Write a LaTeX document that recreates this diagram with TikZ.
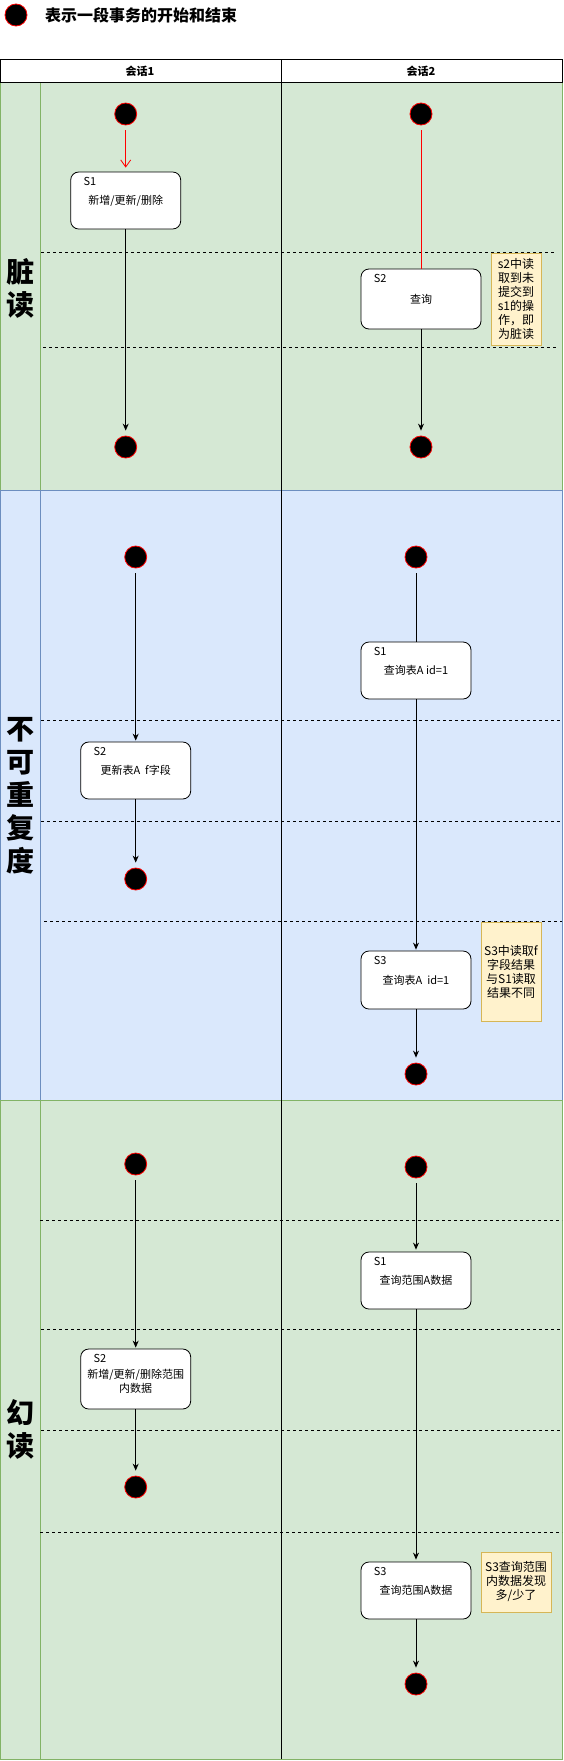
\documentclass[tikz,border=0pt]{standalone}
\usepackage{fontspec}
\setmainfont{Noto Sans CJK SC}
\usetikzlibrary{arrows.meta}
\definecolor{greenFill}{HTML}{D5E8D4}
\definecolor{greenLine}{HTML}{82B366}
\definecolor{blueFill}{HTML}{DAE8FC}
\definecolor{blueLine}{HTML}{6C8EBF}
\definecolor{noteFill}{HTML}{FFF2CC}
\definecolor{noteLine}{HTML}{D6B656}
\begin{document}
\begin{tikzpicture}[x=1pt, y=-1pt,
	dot/.style={circle, fill=black, draw=red, line width=0.8pt, minimum size=22pt, inner sep=0pt},
	stepbox/.style={draw, fill=white, rounded corners=8pt, line width=0.8pt, minimum width=110pt, minimum height=57pt, align=center, inner sep=1pt, font=\fontsize{11}{14}\selectfont},
	steptag/.style={label={[anchor=west, inner sep=0pt, xshift=13pt, yshift=-10pt, font=\fontsize{11}{14}\selectfont]north west:#1}},
	notebox/.style={draw=noteLine, fill=noteFill, line width=0.8pt, align=center, inner sep=1pt, font=\fontsize{12}{14}\selectfont},
	lanename/.style={align=center, inner sep=0pt, font=\fontsize{28}{33}\selectfont\bfseries},
	headname/.style={inner sep=0pt, font=\fontsize{11}{13}\selectfont\bfseries},
	flow/.style={-{Stealth[length=7pt, width=6pt]}, line width=0.8pt},
	redflow/.style={red, line width=0.8pt, -{Straight Barb[length=7pt, width=10pt]}},
	gap/.style={shorten <=5pt},
	endgap/.style={shorten >=5pt}]

	\useasboundingbox (0,0) rectangle (563,1761);

	\node[dot] (legenddot) at (16,15) {};
	\node[anchor=west, inner sep=0pt, font=\fontsize{16}{18}\selectfont\bfseries] (legendtext) at (45,15) {表示一段事务的开始和结束};

	\draw[line width=1pt, fill=greenFill, draw=greenLine] (0.5,82) rectangle (562,490);
	\draw[line width=1pt, fill=blueFill, draw=blueLine] (0.5,490) rectangle (562,1100);
	\draw[line width=1pt, fill=greenFill, draw=greenLine] (0.5,1100) rectangle (562,1759);
	\draw[line width=1pt, greenLine] (40,82) -- (40,490);
	\draw[line width=1pt, blueLine] (40,490) -- (40,1100);
	\draw[line width=1pt, greenLine] (40,1100) -- (40,1759);
	\draw[line width=1pt] (0.5,60) rectangle (562,82);
	\draw[line width=1pt] (281,60) -- (281,1759);

	\foreach \y/\xa/\xb in {252/41/556, 347/43/556, 720/41/562, 821/41/562, 921/44/562, 1220/40/562, 1329/41/562, 1430/41/562, 1532/40/562}
		\draw[dash pattern=on 3pt off 3pt, line width=0.7pt] (\xa,\y) -- (\xb,\y);

	\node[headname] (head1) at (140,71) {会话1};
	\node[headname] (head2) at (421,71) {会话2};

	\node[lanename] (dirty) at (20,288) {脏\\读};
	\node[lanename] (nonrepeat) at (20,796) {不\\可\\重\\复\\度};
	\node[lanename] (phantom) at (20,1429.5) {幻\\读};

	\node[dot] (d1start) at (125.7,114) {};
	\node[stepbox, steptag=S1] (d1box) at (125.7,200.5) {新增/更新/删除};
	\node[dot] (d1end) at (125.7,447) {};
	\node[dot] (d2start) at (421,114) {};
	\node[stepbox, steptag=S2, minimum width=120pt, minimum height=60pt] (d2box) at (421,299) {查询};
	\node[dot] (d2end) at (421,447) {};
	\node[notebox, minimum width=50pt, minimum height=92pt] (dnote) at (516,299) {s2中读\\取到未\\提交到\\s1的操\\作，即\\为脏读};

	\draw[redflow, gap, shorten >=4pt] (d1start) -- (d1box);
	\draw[flow, endgap] (d1box) -- (d1end);
	\draw[red, line width=0.8pt, gap] (d2start) -- (d2box);
	\draw[flow, endgap] (d2box) -- (d2end);

	\node[dot] (n1start) at (135.7,557) {};
	\node[stepbox, steptag=S2] (n1box) at (135.7,770.5) {更新表A~ f字段};
	\node[dot] (n1end) at (135.7,879) {};
	\node[dot] (n2start) at (416,557) {};
	\node[stepbox, steptag=S1] (n2read) at (416,670.5) {查询表A id=1};
	\node[stepbox, steptag=S3, minimum height=58pt] (n2reread) at (416,980) {查询表A~ id=1};
	\node[dot] (n2end) at (416,1074) {};
	\node[notebox, minimum width=60pt, minimum height=99pt] (nnote) at (511,971.5) {S3中读取f\\字段结果\\与S1读取\\结果不同};

	\draw[flow, gap, shorten >=1pt] (n1start) -- (n1box);
	\draw[flow, endgap] (n1box) -- (n1end);
	\draw[line width=0.8pt, gap] (n2start) -- (n2read);
	\draw[flow, shorten >=1pt] (n2read) -- (n2reread);
	\draw[flow, endgap] (n2reread) -- (n2end);

	\node[dot] (p1start) at (135.7,1164) {};
	\node[stepbox, steptag=S2, minimum height=60pt] (p1box) at (135.7,1379) {\\新增/更新/删除范围\\内数据};
	\node[dot] (p1end) at (135.7,1487) {};
	\node[dot] (p2start) at (416,1167) {};
	\node[stepbox, steptag=S1] (p2read) at (416,1280.5) {查询范围A数据};
	\node[stepbox, steptag=S3] (p2reread) at (416,1590.5) {查询范围A数据};
	\node[dot] (p2end) at (416,1684) {};
	\node[notebox, minimum width=70pt, minimum height=60pt] (pnote) at (516,1582) {S3查询范围\\内数据发现\\多/少了};

	\draw[flow, gap, shorten >=1pt] (p1start) -- (p1box);
	\draw[flow, endgap] (p1box) -- (p1end);
	\draw[flow, gap, shorten >=2pt] (p2start) -- (p2read);
	\draw[flow, shorten >=2pt] (p2read) -- (p2reread);
	\draw[flow, endgap] (p2reread) -- (p2end);
\end{tikzpicture}
\end{document}
